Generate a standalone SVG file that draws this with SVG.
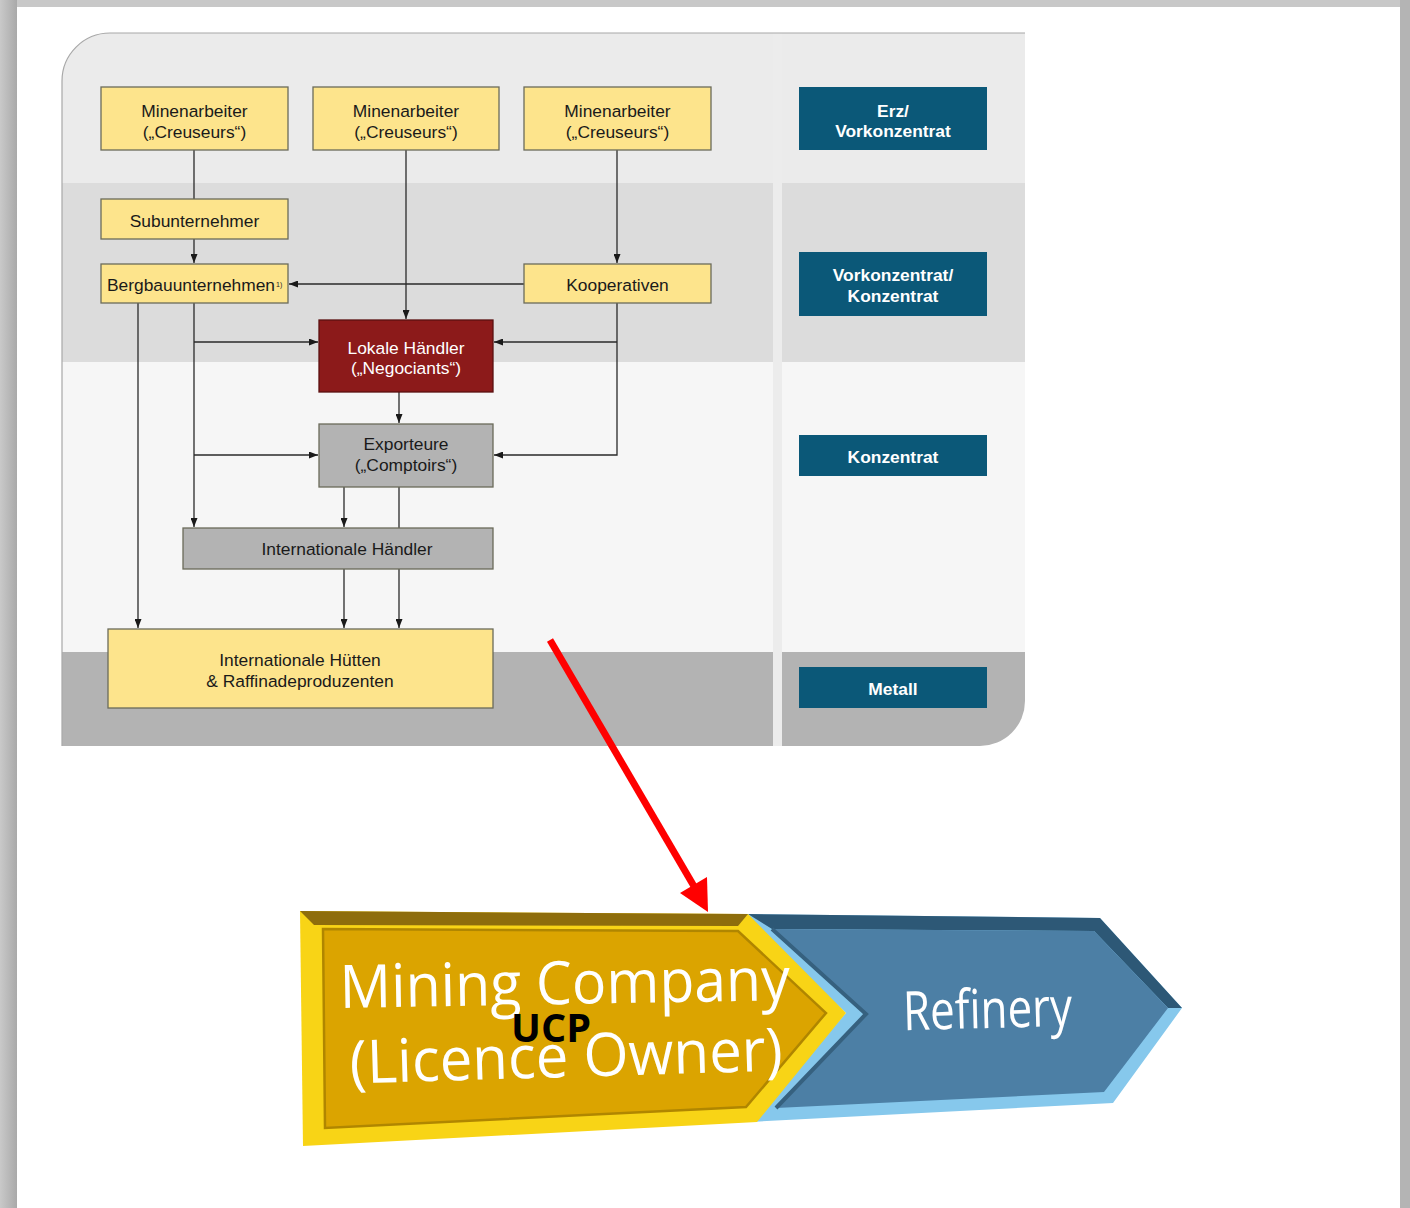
<svg xmlns="http://www.w3.org/2000/svg" width="1410" height="1208" viewBox="0 0 1410 1208">
<defs>
<style>
.box{stroke:#6b6b5a;stroke-width:1.3}
.y{fill:#fde48c}
.g{fill:#b3b3b3}
.r{fill:#8c1a1a}
.lab{fill:#0b5878}
.t{font-family:"Liberation Sans",Arial,sans-serif;font-size:17.4px;fill:#1a1a1a;text-anchor:middle}
.tw{font-family:"Liberation Sans",Arial,sans-serif;font-size:17.4px;fill:#ffffff;text-anchor:middle}
.tb{font-family:"Liberation Sans",Arial,sans-serif;font-size:17.4px;font-weight:bold;fill:#ffffff;text-anchor:middle}
.c{fill:none;stroke:#2a2a2a;stroke-width:1.3}
.big{font-family:"Open Sans","Noto Sans",sans-serif;fill:#ffffff}
</style>
<marker id="ah" viewBox="0 0 9 7" refX="9" refY="3.5" markerWidth="9" markerHeight="7" markerUnits="userSpaceOnUse" orient="auto">
<path d="M0,0 L9,3.5 L0,7 z" fill="#1a1a1a"/>
</marker>
<linearGradient id="lshadow" x1="0" y1="0" x2="1" y2="0">
<stop offset="0" stop-color="#c9c9c9"/>
<stop offset="1" stop-color="#a9a9a9"/>
</linearGradient>
</defs>

<!-- page background -->
<rect x="0" y="0" width="1410" height="1208" fill="#c8c8c8"/>
<rect x="0" y="0" width="17" height="1208" fill="url(#lshadow)"/>
<rect x="1400" y="0" width="10" height="1208" fill="#b4b4b4"/>
<rect x="17" y="7" width="1383" height="1201" fill="#ffffff"/>

<!-- diagram panel -->
<g id="panel">
<clipPath id="pclip">
<path d="M62,81 A48,48 0 0 1 110,33 H1025 V701 A45,45 0 0 1 980,746 H62 Z"/>
</clipPath>
<g clip-path="url(#pclip)">
<rect x="62" y="33" width="963" height="150" fill="#ebebeb"/>
<rect x="62" y="183" width="963" height="179" fill="#dcdcdc"/>
<rect x="62" y="362" width="963" height="290" fill="#f6f6f6"/>
<rect x="62" y="652" width="963" height="94" fill="#b3b3b3"/>
<rect x="773" y="33" width="9" height="713" fill="#ececec"/>
</g>
<path d="M62,746 V81 A48,48 0 0 1 110,33 H1025" fill="none" stroke="#a8a8a8" stroke-width="1.2"/>
</g>

<!-- connectors -->
<g id="connectors">
<path class="c" d="M194,150 V199"/>
<path class="c" d="M194,239 V263" marker-end="url(#ah)"/>
<path class="c" d="M406,150 V319" marker-end="url(#ah)"/>
<path class="c" d="M617,150 V263" marker-end="url(#ah)"/>
<path class="c" d="M524,284 H289" marker-end="url(#ah)"/>
<path class="c" d="M617,303 V455 H494" marker-end="url(#ah)"/>
<path class="c" d="M617,342 H494" marker-end="url(#ah)"/>
<path class="c" d="M138,303 V628" marker-end="url(#ah)"/>
<path class="c" d="M194,303 V527" marker-end="url(#ah)"/>
<path class="c" d="M194,342 H318" marker-end="url(#ah)"/>
<path class="c" d="M194,455 H318" marker-end="url(#ah)"/>
<path class="c" d="M399,392 V423" marker-end="url(#ah)"/>
<path class="c" d="M344,487 V527" marker-end="url(#ah)"/>
<path class="c" d="M399,487 V528"/>
<path class="c" d="M344,569 V628" marker-end="url(#ah)"/>
<path class="c" d="M399,569 V628" marker-end="url(#ah)"/>
</g>

<!-- nodes -->
<g id="miner1">
<rect class="box y" x="101" y="87" width="187" height="63"/>
<text class="t" x="194.5" y="117">Minenarbeiter</text>
<text class="t" x="194.5" y="138">(„Creuseurs“)</text>
</g>
<g id="miner2">
<rect class="box y" x="313" y="87" width="186" height="63"/>
<text class="t" x="406" y="117">Minenarbeiter</text>
<text class="t" x="406" y="138">(„Creuseurs“)</text>
</g>
<g id="miner3">
<rect class="box y" x="524" y="87" width="187" height="63"/>
<text class="t" x="617.5" y="117">Minenarbeiter</text>
<text class="t" x="617.5" y="138">(„Creuseurs“)</text>
</g>
<g id="subunternehmer">
<rect class="box y" x="101" y="199" width="187" height="40"/>
<text class="t" x="194.5" y="227">Subunternehmer</text>
</g>
<g id="bergbau">
<rect class="box y" x="101" y="264" width="187" height="39"/>
<text class="t" x="107" y="291" style="text-anchor:start" textLength="168" lengthAdjust="spacingAndGlyphs">Bergbauunternehmen</text>
<text x="276" y="287" style="font-family:'Liberation Sans',Arial,sans-serif;font-size:7px;fill:#1e1e1e">1)</text>
</g>
<g id="kooperativen">
<rect class="box y" x="524" y="264" width="187" height="39"/>
<text class="t" x="617.5" y="291">Kooperativen</text>
</g>
<g id="lokale">
<rect class="box r" x="319" y="320" width="174" height="72" style="stroke:#5a1010"/>
<text class="tw" x="406" y="354">Lokale Händler</text>
<text class="tw" x="406" y="374">(„Negociants“)</text>
</g>
<g id="exporteure">
<rect class="box g" x="319" y="424" width="174" height="63"/>
<text class="t" x="406" y="450">Exporteure</text>
<text class="t" x="406" y="471">(„Comptoirs“)</text>
</g>
<g id="int-haendler">
<rect class="box g" x="183" y="528" width="310" height="41"/>
<text class="t" x="347" y="555">Internationale Händler</text>
</g>
<g id="huetten">
<rect class="box y" x="108" y="629" width="385" height="79"/>
<text class="t" x="300" y="666">Internationale Hütten</text>
<text class="t" x="300" y="687">&amp; Raffinadeproduzenten</text>
</g>
<g id="label-erz">
<rect class="lab" x="799" y="87" width="188" height="63"/>
<text class="tb" x="893" y="117">Erz/</text>
<text class="tb" x="893" y="137">Vorkonzentrat</text>
</g>
<g id="label-vorkonz">
<rect class="lab" x="799" y="252" width="188" height="64"/>
<text class="tb" x="893" y="281">Vorkonzentrat/</text>
<text class="tb" x="893" y="302">Konzentrat</text>
</g>
<g id="label-konz">
<rect class="lab" x="799" y="435" width="188" height="41"/>
<text class="tb" x="893" y="463">Konzentrat</text>
</g>
<g id="label-metall">
<rect class="lab" x="799" y="667" width="188" height="41"/>
<text class="tb" x="893" y="695">Metall</text>
</g>

<!-- bottom chevrons -->
<g id="refinery">
<polygon points="740,914 1100,918 1182,1008 1113,1103 750,1122 846,1013" fill="#86c8ec"/>
<polygon points="748,914 1100,918 1182,1008 1168,1008 1094,931 772,929" fill="#2d5876"/>
<polygon points="772,929 1094,931 1168,1008 1104,1092 776,1108 866,1014" fill="#4c7fa5"/>
<path d="M772,929 L866,1014 L776,1108" fill="none" stroke="#36617f" stroke-width="4"/>
<text class="big" x="903" y="1028" font-size="54" textLength="169" lengthAdjust="spacingAndGlyphs" transform="rotate(-1.5 988 1010)">Refinery</text>
</g>
<g id="mining-company">
<polygon points="300,911 748,914 846,1013 757,1122 303,1146" fill="#f8d416"/>
<polygon points="300,911 748,914 738,926 314,925" fill="#8e6d0c"/>
<polygon points="323,929 738,931 826,1013 746,1107 325,1128" fill="#dba400" stroke="#b08600" stroke-width="2.5"/>
<text class="big" x="340" y="1004" font-size="60" textLength="450" lengthAdjust="spacingAndGlyphs" transform="rotate(-1 565 1000)">Mining Company</text>
<text class="big" x="350" y="1077" font-size="60" textLength="433" lengthAdjust="spacingAndGlyphs" transform="rotate(-1.7 566 1070)">(Licence Owner)</text>
<text x="511" y="1042" font-family="'Open Sans','Noto Sans',sans-serif" font-weight="bold" font-size="40" fill="#000000" textLength="80" lengthAdjust="spacingAndGlyphs">UCP</text>
</g>

<!-- red arrow -->
<g id="red-arrow">
<line x1="550" y1="640" x2="695" y2="888" stroke="#ff0000" stroke-width="7"/>
<polygon points="708,912 680,893 707,877" fill="#ff0000"/>
</g>
</svg>
